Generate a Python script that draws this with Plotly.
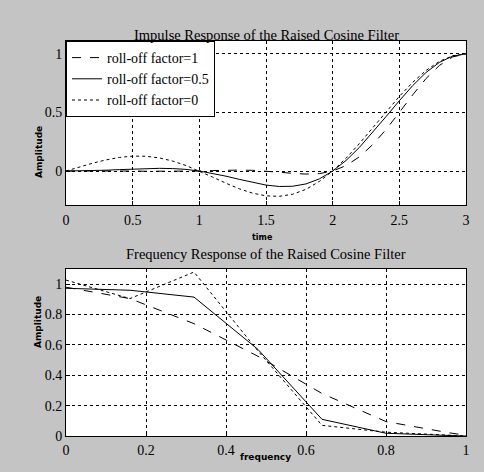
import plotly.graph_objects as go

# ---- Impulse response data (time 0..3, step 0.1) ----
t = [round(0.1 * i, 1) for i in range(31)]
h_r1 = [0.000, 0.001, 0.002, 0.002, 0.001, 0.000, -0.002, -0.003, -0.004, -0.003,
        0.000, 0.004, 0.007, 0.008, 0.006, 0.000, -0.010, -0.020, -0.026, -0.022,
        0.000, 0.046, 0.121, 0.225, 0.354, 0.500, 0.650, 0.789, 0.901, 0.974, 1.000]
h_r05 = [0.000, 0.001, 0.003, 0.007, 0.012, 0.017, 0.021, 0.023, 0.021, 0.014,
         0.000, -0.020, -0.044, -0.071, -0.098, -0.120, -0.132, -0.130, -0.110, -0.067,
         0.000, 0.090, 0.201, 0.328, 0.464, 0.600, 0.729, 0.841, 0.927, 0.981, 1.000]
h_r0 = [0.000, 0.034, 0.067, 0.095, 0.116, 0.127, 0.126, 0.112, 0.085, 0.047,
        0.000, -0.052, -0.104, -0.152, -0.189, -0.212, -0.216, -0.198, -0.156, -0.089,
        0.000, 0.109, 0.234, 0.368, 0.505, 0.637, 0.757, 0.858, 0.936, 0.984, 1.000]

# ---- Frequency response data ----
f = [0.0, 0.16, 0.32, 0.48, 0.64, 0.80, 0.96, 1.0]
H_r1 = [0.98, 0.905, 0.74, 0.525, 0.28, 0.095, 0.02, 0.005]
H_r05 = [0.973, 0.96, 0.915, 0.57, 0.11, 0.018, 0.003, 0.0]
H_r0 = [1.027, 0.905, 1.08, 0.56, 0.07, 0.025, 0.005, 0.0]

names = ["roll-off factor=1", "roll-off factor=0.5", "roll-off factor=0"]
dashes = ["dash", "solid", "dot"]

SERIF = "Liberation Serif"
fig = go.Figure()
for y, nm, d in zip([h_r1, h_r05, h_r0], names, dashes):
    fig.add_trace(go.Scatter(x=t, y=y, mode="lines", name=nm,
                             line=dict(color="black", width=1, dash=d),
                             xaxis="x", yaxis="y"))
for y, nm, d in zip([H_r1, H_r05, H_r0], names, dashes):
    fig.add_trace(go.Scatter(x=f, y=y, mode="lines", name=nm, showlegend=False,
                             line=dict(color="black", width=1, dash=d),
                             xaxis="x2", yaxis="y2"))

W, H = 484, 472
xd = [66 / W, 466 / W]
yd1 = [(H - 205) / H, (H - 41) / H]
yd2 = [(H - 436) / H, (H - 269) / H]

ax = dict(showline=True, linecolor="black", linewidth=1, mirror=True,
          showgrid=True, gridcolor="black", griddash="dot", gridwidth=1,
          zeroline=False, ticks="inside", ticklen=4, tickcolor="black",
          automargin=False,
          tickfont=dict(family=SERIF, size=14, color="black"))

fig.update_layout(
    width=W, height=H,
    margin=dict(l=0, r=0, t=0, b=0, autoexpand=False),
    paper_bgcolor="#c4c4c4", plot_bgcolor="white",
    xaxis=dict(ax, domain=xd, anchor="y", range=[0, 3],
               tickvals=[0, 0.5, 1, 1.5, 2, 2.5, 3],
               ticktext=["0", "0.5", "1", "1.5", "2", "2.5", "3"], ticklabelstandoff=2),
    yaxis=dict(ax, domain=yd1, anchor="x", range=[-0.29, 1.11],
               tickvals=[0, 0.5, 1], ticktext=["0", "0.5", "1"]),
    xaxis2=dict(ax, domain=xd, anchor="y2", range=[0, 1],
                tickvals=[0, 0.2, 0.4, 0.6, 0.8, 1],
                ticktext=["0", "0.2", "0.4", "0.6", "0.8", "1"], ticklabelstandoff=1),
    yaxis2=dict(ax, domain=yd2, anchor="x2", range=[0, 1.1],
                tickvals=[0, 0.2, 0.4, 0.6, 0.8, 1],
                ticktext=["0", "0.2", "0.4", "0.6", "0.8", "1"]),
    legend=dict(x=xd[0], y=yd1[1], xanchor="left", yanchor="top",
                bgcolor="white", bordercolor="black", borderwidth=1,
                font=dict(family=SERIF, size=14, color="black"),
                tracegroupgap=0, itemwidth=30),
    showlegend=True,
)

def ann(text, x, y, size, family=SERIF, angle=0, bold=False):
    fig.add_annotation(text=("<b>%s</b>" % text) if bold else text,
                       x=x / W, y=1 - y / H, xref="paper", yref="paper",
                       showarrow=False, textangle=angle,
                       font=dict(family=family, size=size, color="black"))

ann("Impulse Response of the Raised Cosine Filter", 266, 25, 14.5)
ann("Frequency Response of the Raised Cosine Filter", 266, 254, 14.5)
ann("time", 262, 237, 8, family="DejaVu Sans", bold=True)
ann("frequency", 265, 464, 9, family="DejaVu Sans", bold=True)
ann("Amplitude", 32, 124, 9, family="DejaVu Sans", angle=-90, bold=True)
ann("Amplitude", 31, 350, 9, family="DejaVu Sans", angle=-90, bold=True)

fig.write_html("out.html",
               config={"displayModeBar": False},
               post_script="document.body.style.margin='0';"
                           "document.body.style.background='#c4c4c4';")
